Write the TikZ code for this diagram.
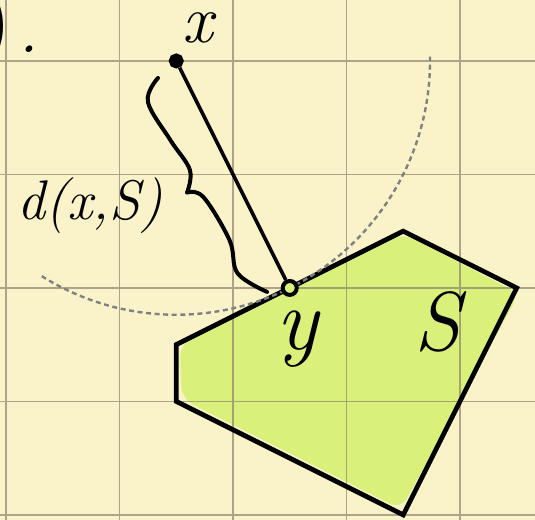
\documentclass[tikz,border=0pt]{standalone}
\usepackage{tikz}
\definecolor{paper}{HTML}{FAF3C9}
\definecolor{hilite}{HTML}{D9F07A}
\definecolor{rule}{HTML}{8C8270}
\begin{document}
\begin{tikzpicture}[scale=2]
    \tikzset{gridline/.style = {rule,line width=0.9pt,opacity=0.7}}
    \tikzset{edge/.style = {line width=2.4pt,line join=miter}}
    \tikzset{point/.style = {shape=circle,draw,line width=2pt,inner sep=0pt}}
    \tikzset{hand/.style = {font=\fontsize{34}{40}\selectfont\itshape,inner sep=0pt}}
    \useasboundingbox (-2.053,-2.044) rectangle (2.661,2.537);
    \fill[paper] (-2.053,-2.044) rectangle (2.661,2.537);
    \fill[hilite,rounded corners=6pt] (-0.47,-0.5) -- (1.5,0.48) -- (2.52,-0.05)
    -- (1.48,-1.95) -- (-0.45,-0.98) -- cycle;
    \draw[gridline,step=1] (-2.053,-2.044) grid (2.661,2.537);
    \draw[edge] (-0.5,-0.5) -- (1.5,0.5) -- (2.5,0) -- (1.5,-2) -- (-0.5,-1) -- cycle;
    \draw[gray,line width=1.2pt,dash pattern=on 2.5pt off 1.8pt]
    (-0.5,2) ++(238:2.236) arc (238:361:2.236);
    \node[point,fill=black,minimum size=5.5pt] (x) at (-0.5,2) {};
    \node[point,fill=hilite,minimum size=7pt] (y) at (0.5,0) {};
    \draw[line width=1.8pt] (x) -- (y);
    \draw[line width=2pt,line cap=round] plot[smooth,tension=0.6] coordinates
    {(-0.661,1.85) (-0.75,1.64) (-0.55,1.3) (-0.38,1.04) (-0.405,0.84)}
    plot[smooth,tension=0.6] coordinates
    {(-0.405,0.84) (-0.26,0.8) (-0.03,0.42) (0.04,0.13) (0.3,-0.035)};
    \node[hand] (xl) at (-0.31,2.29) {x};
    \node[hand,font=\fontsize{44}{50}\selectfont\itshape] (yl) at (0.57,-0.45) {y};
    \node[hand,font=\fontsize{42}{48}\selectfont\itshape] (sl) at (1.8,-0.3) {S};
    \node[hand,font=\fontsize{28}{34}\selectfont\itshape] (dl) at (-1.26,0.73) {d(x,S)};
    \node[hand,font=\fontsize{40}{46}\selectfont] (cut) at (-2.08,2.3) {)};
    \node[hand] (dot) at (-1.8,2.1) {.};
\end{tikzpicture}
\end{document}
